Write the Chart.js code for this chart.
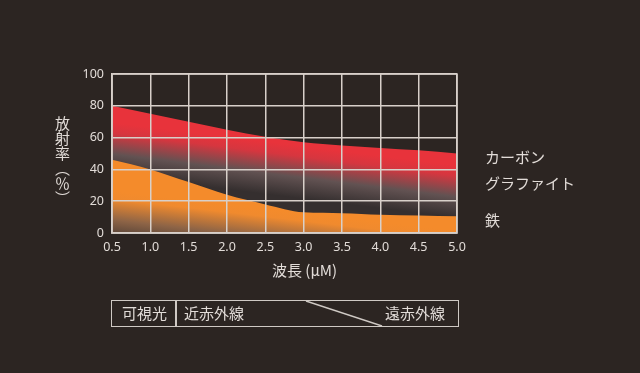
<!DOCTYPE html>
<html><head><meta charset="utf-8">
<script src="https://cdn.jsdelivr.net/npm/chart.js@4/dist/chart.umd.min.js"></script>
<style>
html,body{margin:0;padding:0;background:#2c2522;}
#wrap{position:relative;width:640px;height:373px;overflow:hidden;background:#2c2522;font-family:"Noto Sans CJK JP","Noto Sans",sans-serif;color:#e2dcd8;}
#c{position:absolute;left:0;top:0;}
.lbl{position:absolute;font-size:15px;line-height:1;white-space:nowrap;}
#ytitle{position:absolute;left:55px;top:116px;writing-mode:vertical-rl;font-size:15px;line-height:1;letter-spacing:0px;}
#xtitle{position:absolute;left:272px;top:262px;font-size:15px;line-height:1;}
#band{position:absolute;left:111px;top:300px;width:346px;height:25px;border:1.5px solid #cfc9c4;box-sizing:content-box;}
#band .t{position:absolute;top:4px;font-size:15px;line-height:1;}
#band .div{position:absolute;left:63px;top:0;width:1.5px;height:25px;background:#cfc9c4;}
</style></head>
<body><div id="wrap">
<canvas id="c" width="640" height="373"></canvas>
<div id="ytitle">放射率（％）</div>
<div id="xtitle">波長 (μM)</div>
<div class="lbl" style="left:485px;top:149px;">カーボン</div>
<div class="lbl" style="left:485px;top:175px;">グラファイト</div>
<div class="lbl" style="left:485px;top:212px;">鉄</div>
<div id="band">
  <div class="t" style="left:10px;">可視光</div>
  <div class="div"></div>
  <div class="t" style="left:72px;">近赤外線</div>
  <div class="t" style="right:13px;">遠赤外線</div>
  <svg style="position:absolute;left:0;top:0;" width="346" height="25"><line x1="194" y1="0" x2="270" y2="25" stroke="#cfc9c4" stroke-width="1.5"/></svg>
</div>
</div>
<script>
const wavelengths = ['0.5','1.0','1.5','2.0','2.5','3.0','3.5','4.0','4.5','5.0'];
const carbonGraphite = [80, 75, 70, 65, 60.5, 57, 55, 53.5, 52, 50];
const iron = [46, 40, 32, 24, 18, 13, 12.5, 11.5, 11, 10.5];
const yTicks = [0, 20, 40, 60, 80, 100];

function diagGradient(chart, a, b, half, stops, fallback) {
  const area = chart.chartArea;
  if (!area) return fallback;
  const xs = chart.scales.x, ys = chart.scales.y;
  const p0 = {x: xs.getPixelForValue(a[0]), y: ys.getPixelForValue(a[1])};
  const p1 = {x: xs.getPixelForValue(b[0]), y: ys.getPixelForValue(b[1])};
  let vx = p1.x - p0.x, vy = p1.y - p0.y;
  const len = Math.hypot(vx, vy);
  let nx = vy / len, ny = -vx / len;
  if (ny > 0) { nx = -nx; ny = -ny; }
  const g = chart.ctx.createLinearGradient(p0.x - nx*half, p0.y - ny*half, p0.x + nx*half, p0.y + ny*half);
  stops.forEach(s => g.addColorStop(s[0], s[1]));
  return g;
}

new Chart(document.getElementById('c'), {
  type: 'line',
  data: {
    labels: wavelengths,
    datasets: [
      {
        label: '鉄',
        data: iron,
        fill: 'origin',
        borderWidth: 0,
        pointRadius: 0,
        cubicInterpolationMode: 'monotone',
        backgroundColor: (ctx) => diagGradient(ctx.chart, [0, 10], [5, -4], 26,
          [[0, '#383131'], [0.45, '#8e6446'], [0.85, '#f08a2e'], [1, '#f48b2b']], '#f48b2b')
      },
      {
        label: 'カーボン グラファイト',
        data: carbonGraphite,
        fill: 'origin',
        borderWidth: 0,
        pointRadius: 0,
        cubicInterpolationMode: 'monotone',
        backgroundColor: (ctx) => diagGradient(ctx.chart, [0, 53], [9, 26], 26,
          [[0, '#352f2f'], [0.4, '#625252'], [0.8, '#d6363f'], [1, '#e8333b']], '#e8333b')
      }
    ]
  },
  options: {
    responsive: false,
    animation: false,
    events: [],
    layout: {padding: {left: 72, top: 74, right: 183, bottom: 115}},
    plugins: {legend: {display: false}, tooltip: {enabled: false}},
    scales: {
      x: {
        type: 'category',
        offset: false,
        z: 1,
        grid: {color: '#d8d0ca', lineWidth: 1.5, drawTicks: false, z: 1},
        border: {color: '#d8d0ca', width: 1.5, z: 1},
        ticks: {color: '#e2dcd8', font: {family: '"Noto Sans", sans-serif', size: 12.5}, padding: 7, maxRotation: 0, autoSkip: false},
        afterFit: (s) => { s.height = 25; }
      },
      y: {
        min: 0, max: 100,
        z: 1,
        afterBuildTicks: (s) => { s.ticks = yTicks.map(v => ({value: v})); },
        grid: {color: '#d8d0ca', lineWidth: 1.5, drawTicks: false, z: 1},
        border: {color: '#d8d0ca', width: 1.5, z: 1},
        ticks: {color: '#e2dcd8', font: {family: '"Noto Sans", sans-serif', size: 12.5}, padding: 8},
        afterFit: (s) => { s.width = 40; }
      }
    }
  },
  plugins: [{
    id: 'frame',
    afterDraw(chart) {
      const a = chart.chartArea, c = chart.ctx;
      c.save(); c.strokeStyle = '#d8d0ca'; c.lineWidth = 1.5;
      c.strokeRect(a.left, a.top, a.right - a.left, a.bottom - a.top);
      c.restore();
    }
  }]
});
</script>
</body></html>
